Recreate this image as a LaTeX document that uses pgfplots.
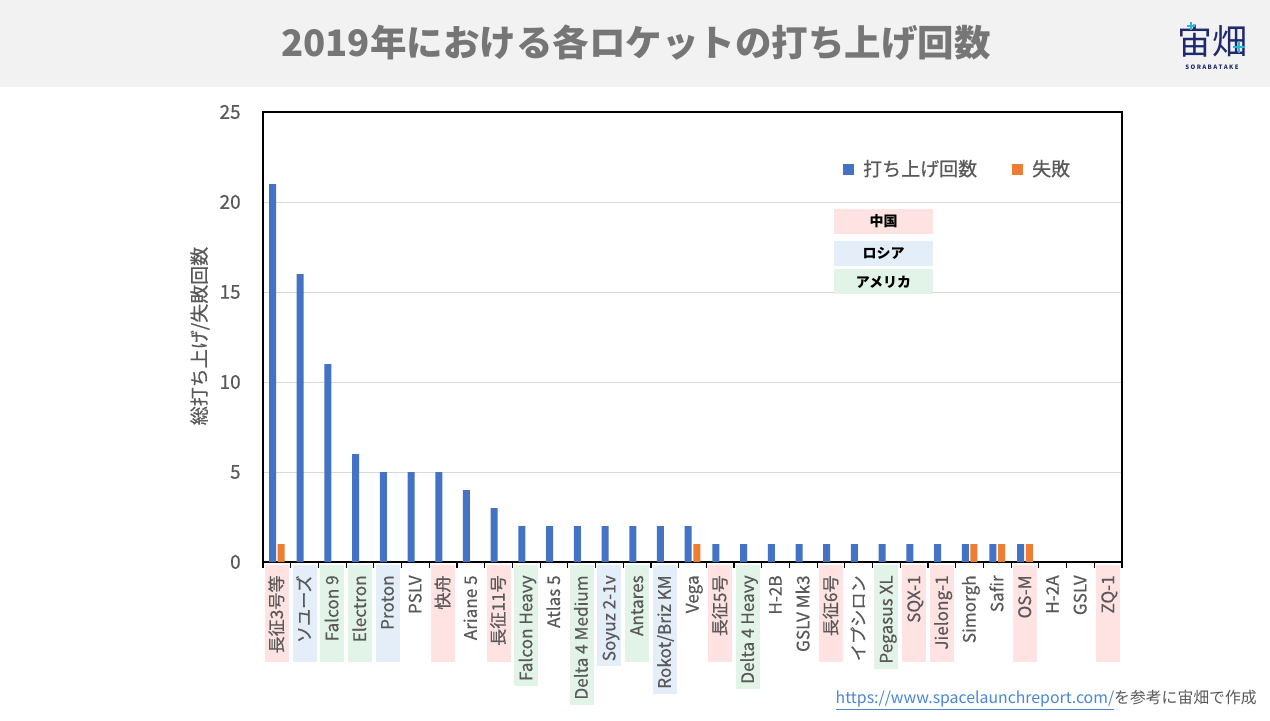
\documentclass[border=0pt]{standalone}
\usepackage{pgfplots}
\pgfplotsset{compat=1.18}
\usepackage{fontspec}
\setmainfont{Noto Sans CJK JP}[UprightFeatures={FakeBold=0.5}]
\newfontfamily\plainfont{Noto Sans CJK JP}
\definecolor{barblue}{HTML}{4472C4}
\definecolor{barorange}{HTML}{ED7D31}
\definecolor{gridc}{HTML}{D9D9D9}
\definecolor{lab}{HTML}{595959}
\definecolor{titlec}{HTML}{767676}
\definecolor{band}{HTML}{F2F2F2}
\definecolor{cnp}{HTML}{FFE3E3}
\definecolor{rub}{HTML}{E3EEF9}
\definecolor{usg}{HTML}{E2F4E7}
\definecolor{urlc}{HTML}{4A86D6}
\definecolor{navy}{HTML}{1F2A6E}
\definecolor{cyanl}{HTML}{27B5D8}
\setlength\fboxsep{0pt}
\newlength\lablen
\newcommand\tl[2]{%
  \settowidth\lablen{#2}%
  \addtolength\lablen{9pt}%
  \ifdim\lablen<58.2pt \setlength\lablen{58.2pt}\fi
  \colorbox{#1}{\makebox[\lablen][r]{\rule[-3.6pt]{0pt}{14.4pt}#2\hspace{6pt}}}}
\begin{document}
\begin{tikzpicture}
\useasboundingbox (0,0) rectangle (762pt,432pt);
\fill[white] (0,0) rectangle (762pt,432pt);
\fill[band] (0,379.8pt) rectangle (762pt,432pt);
\begin{axis}[
  at={(157.8pt,94.8pt)}, anchor=south west,
  width=515.4pt, height=270pt, scale only axis,
  xmin=-0.5, xmax=30.5, ymin=0, ymax=25,
  ybar=1pt, bar width=4.2pt,
  xtick={0,...,30},
  xticklabels={\tl{cnp}{長征3号等},\tl{rub}{ソユーズ},\tl{usg}{Falcon 9},\tl{usg}{Electron},\tl{rub}{Proton},\tl{white}{PSLV},\tl{cnp}{快舟},\tl{white}{Ariane 5},\tl{cnp}{長征11号},\tl{usg}{Falcon Heavy},\tl{white}{Atlas 5},\tl{usg}{Delta 4 Medium},\tl{rub}{Soyuz 2-1v},\tl{usg}{Antares},\tl{rub}{Rokot/Briz KM},\tl{white}{Vega},\tl{cnp}{長征5号},\tl{usg}{Delta 4 Heavy},\tl{white}{H-2B},\tl{white}{GSLV Mk3},\tl{cnp}{長征6号},\tl{white}{イプシロン},\tl{usg}{Pegasus XL},\tl{cnp}{SQX-1},\tl{cnp}{Jielong-1},\tl{white}{Simorgh},\tl{white}{Safir},\tl{cnp}{OS-M},\tl{white}{H-2A},\tl{white}{GSLV},\tl{cnp}{ZQ-1}},
  minor xtick={-0.5,0.5,...,30.5},
  major tick length=0pt, minor tick length=3.6pt, tick align=outside,
  xtick pos=lower, ytick pos=left,
  ytick={0,5,...,25},
  ymajorgrids, grid style={color=gridc, line width=0.6pt},
  minor tick style={black, line width=0.7pt},
  axis line style={line width=0.8pt, black},
  xticklabel style={rotate=90, anchor=east, inner sep=0pt, font=\fontsize{10.3}{12}\selectfont, text=lab},
  xticklabel shift=1.8pt,
  yticklabel style={inner sep=0pt, font=\fontsize{11.4}{13}\selectfont, text=lab},
  yticklabel shift=13.2pt,
  /pgf/number format/assume math mode=true,
  legend style={at={(0.675,0.873)}, anchor=west, draw=none, fill=none, inner sep=0pt,
    font=\fontsize{11.4}{13}\selectfont, text=lab, column sep=5.4pt,
    /tikz/every even column/.append style={column sep=21pt}, nodes={inner sep=0pt}},
  legend columns=2,
  legend image code/.code={\fill[#1,draw=none] (0pt,-3.3pt) rectangle (6.6pt,3.3pt);},
]
\addplot[fill=barblue, draw=none] coordinates {
(0,21) (1,16) (2,11) (3,6) (4,5) (5,5) (6,5) (7,4) (8,3) (9,2) (10,2) (11,2) (12,2) (13,2) (14,2) (15,2)
(16,1) (17,1) (18,1) (19,1) (20,1) (21,1) (22,1) (23,1) (24,1) (25,1) (26,1) (27,1)};
\addplot[fill=barorange, draw=none] coordinates {
(0,1) (15,1) (25,1) (26,1) (27,1)};
\legend{打ち上げ回数,失敗}
\end{axis}
\begin{scope}[x=0.6pt,y=0.6pt]
\node[text=titlec, font=\fontsize{21.9}{26}\selectfont\bfseries] at (636,677) {2019年における各ロケットの打ち上げ回数};
\node[rotate=90, text=lab, font=\fontsize{11.4}{13}\selectfont] at (200,384) {総打ち上げ/失敗回数};
\node[fill=cnp, minimum width=59.4pt, minimum height=15pt, inner sep=0pt, font=\fontsize{8.4}{10}\selectfont\bfseries] at (883.5,498.5) {中国};
\node[fill=rub, minimum width=59.4pt, minimum height=15pt, inner sep=0pt, font=\fontsize{8.4}{10}\selectfont\bfseries] at (883.5,466.5) {ロシア};
\node[fill=usg, minimum width=59.4pt, minimum height=15pt, inner sep=0pt, font=\fontsize{8.4}{10}\selectfont\bfseries] at (883.5,438) {アメリカ};
\node[anchor=east, inner sep=0pt, text=lab, font=\plainfont\fontsize{9.5}{11}\selectfont] at (1257,20) {{\color{urlc}\underline{https://www.spacelaunchreport.com/}}を参考に宙畑で作成};
\node[text=navy, font=\plainfont\fontsize{21}{21}\selectfont] at (1212,679) {宙畑};
\node[text=navy, font=\fontsize{3.6}{4}\selectfont\bfseries] at (1212,653) {S O R A B A T A K E};
\draw[cyanl, line width=1.2pt] (1187,694) -- (1195,694) (1191,690) -- (1191,698);
\draw[cyanl, line width=1.5pt] (1233,673) -- (1245,673) (1239,667) -- (1239,679);
\end{scope}
\end{tikzpicture}
\end{document}
